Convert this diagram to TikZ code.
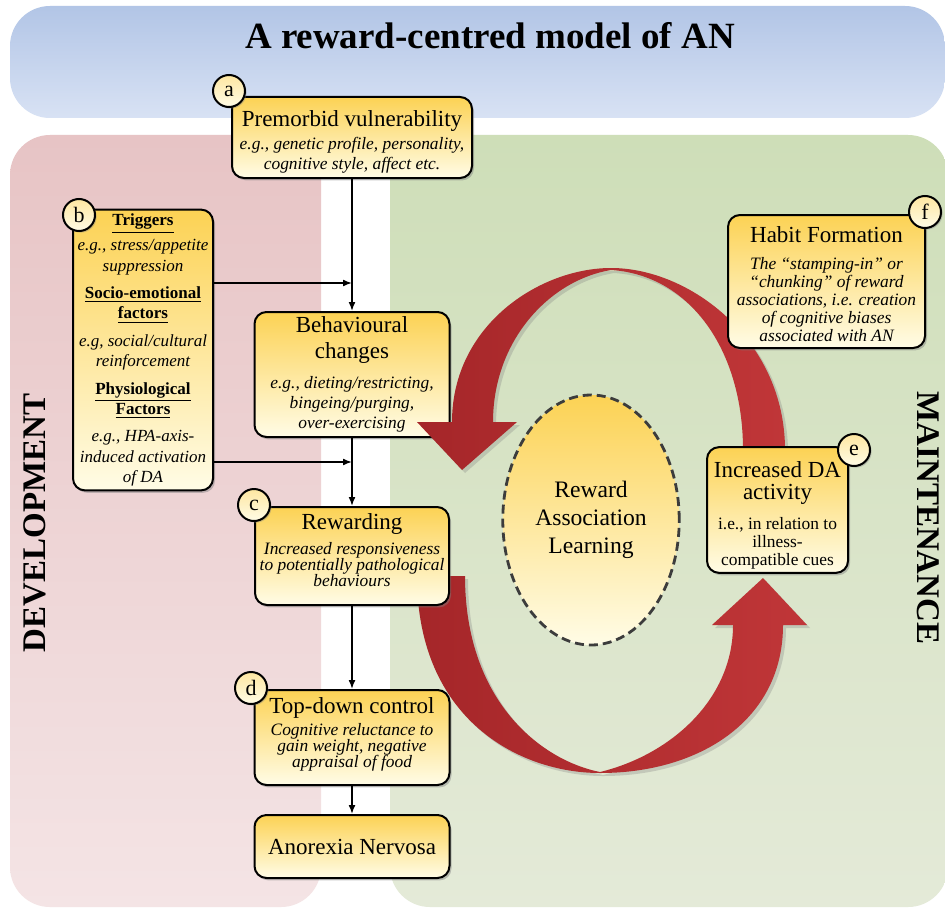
\documentclass[tikz,border=0pt]{standalone}
\usepackage{fontspec}
\setmainfont{Liberation Serif}
\usetikzlibrary{arrows.meta,shadows,shapes.geometric}

\definecolor{bluetop}{RGB}{178,197,230}
\definecolor{bluebot}{RGB}{216,226,244}
\definecolor{pinktop}{RGB}{231,196,197}
\definecolor{pinkbot}{RGB}{244,228,229}
\definecolor{greentop}{RGB}{206,222,184}
\definecolor{greenbot}{RGB}{228,234,216}
\definecolor{boxtop}{RGB}{252,210,84}
\definecolor{boxbot}{RGB}{255,252,230}
\definecolor{reddark}{RGB}{165,38,41}
\definecolor{redlight}{RGB}{192,54,56}
\definecolor{dashgray}{RGB}{60,60,60}

\newcommand{\hd}[1]{{\upshape\fontsize{11.5}{13}\selectfont #1}}
\newcommand{\sub}[1]{\underline{\upshape\bfseries #1}}

\begin{document}
\begin{tikzpicture}[x=0.5pt,y=-0.5pt,
    stage/.style={draw,line width=1pt,rounded corners=6pt,top color=boxtop,bottom color=boxbot,
      align=center,inner sep=2pt,font=\itshape\fontsize{8.7}{10}\selectfont,
      drop shadow={shadow xshift=1pt,shadow yshift=-1.2pt,opacity=0.45}},
    tag/.style={circle,draw,line width=1pt,top color=boxtop!55!white,bottom color=boxbot,
      minimum size=16pt,inner sep=0pt,font=\fontsize{11}{11}\selectfont,
      drop shadow={shadow xshift=0.8pt,shadow yshift=-0.8pt,opacity=0.4}},
    flow/.style={line width=0.8pt,-{Latex[length=4.5pt,width=3.5pt]}},
    bigarrow/.style={left color=reddark,right color=redlight,
      drop shadow={shadow xshift=1.5pt,shadow yshift=-1.5pt,opacity=0.3}},
    panel/.style={rounded corners=20pt}]
    \useasboundingbox (0,0) rectangle (945,909);
    \fill[white] (0,0) rectangle (945,909);

    % background panels
    \shade[panel,top color=bluetop,bottom color=bluebot] (10,6) rectangle (945,118);
    \shade[panel,top color=pinktop,bottom color=pinkbot] (10,135) rectangle (321,907);
    \shade[panel,top color=greentop,bottom color=greenbot] (390,135) rectangle (948,907);

    \node (title) at (490,36) {\bfseries\fontsize{18.5}{20}\selectfont A reward-centred model of AN};
    \node[rotate=90] (dev) at (35,523) {\bfseries\fontsize{16.5}{18}\selectfont DEVELOPMENT};
    \node[rotate=-90] (maint) at (928,518) {\bfseries\fontsize{16.5}{18}\selectfont MAINTENANCE};

    % lower loop arrow
    \path[bigarrow] (417,576) .. controls (417,720) and (520,773) .. (600,773)
        .. controls (700,773) and (783,720) .. (783,625) -- (807,625) -- (763,578) -- (712,625)
        -- (733,625) .. controls (733,700) and (670,755) .. (600,772)
        .. controls (540,760) and (465,700) .. (465,576) -- cycle;

    \node[stage,minimum width=97.5pt,minimum height=62.5pt] (beh) at (352,374.5)
        {\hd{Behavioural}\\[3pt] \hd{changes}\\[5pt] e.g., dieting/restricting,\\ bingeing/purging,\\ over-exercising};

    % upper loop arrow
    \path[bigarrow] (785,450) .. controls (785,340) and (690,268) .. (611,268)
        .. controls (540,268) and (452,325) .. (452,422) -- (417,422) -- (462,470) -- (517,422)
        -- (493,422) .. controls (493,340) and (550,280) .. (611,270)
        .. controls (690,275) and (743,350) .. (743,450) -- cycle;

    \node[stage,minimum width=120pt,minimum height=40.5pt] (vuln) at (352,137.5)
        {\hd{\rule{0pt}{12pt}Premorbid vulnerability}\\[1.5pt] e.g., genetic profile, personality,\\ cognitive style, affect etc.};
    \node[stage,minimum width=70pt,minimum height=135pt,font=\itshape\fontsize{8.5}{10.2}\selectfont] (trig) at (143,350)
        {\sub{Triggers}\\[2.5pt] e.g., stress/appetite\\ suppression\\[3.5pt]
         \sub{Socio-emotional}\\ \sub{factors}\\[3.5pt] e.g, social/cultural\\ reinforcement\\[3.5pt]
         \sub{Physiological}\\ \sub{Factors}\\[3.5pt] e.g., HPA-axis-\\ induced activation\\ of DA};
    \node[stage,minimum width=97pt,minimum height=49pt,font=\itshape\fontsize{8.7}{8.2}\selectfont] (rew) at (352,556)
        {\hd{Rewarding}\\[3pt] Increased responsiveness\\ to potentially pathological\\ behaviours\rule[-6pt]{0pt}{0pt}};
    \node[stage,minimum width=97.5pt,minimum height=47.5pt,font=\itshape\fontsize{8.7}{8.2}\selectfont] (ctrl) at (352,737.5)
        {\hd{Top-down control}\\[1.5pt] Cognitive reluctance to\\ gain weight, negative\\ appraisal of food\rule[-5pt]{0pt}{0pt}};
    \node[stage,minimum width=97.5pt,minimum height=31.5pt] (an) at (352,846.5) {\hd{Anorexia Nervosa}};
    \node[stage,minimum width=98.5pt,minimum height=66.5pt,font=\itshape\fontsize{8.7}{9}\selectfont] (habit) at (826.5,281.5)
        {\hd{\rule{0pt}{11pt}Habit Formation}\\[4.5pt] The ``stamping-in'' or\\ ``chunking'' of reward\\ associations, i.e. creation\\ of cognitive biases\\ associated with AN};
    \node[stage,minimum width=70.5pt,minimum height=58pt,font=\fontsize{8.7}{9}\selectfont] (da) at (777.5,510)
        {\hd{\rule{0pt}{13pt}Increased DA}\\[2pt] \hd{activity}\\[6pt] i.e., in relation to\\ illness-\\ compatible cues};
    \node[ellipse,draw=dashgray,line width=1.4pt,dash pattern=on 4.5pt off 2.5pt,
        top color=boxtop,bottom color=boxbot,minimum width=73pt,minimum height=125pt,
        align=center,font=\fontsize{11.8}{14}\selectfont] (ral) at (591,520)
        {Reward\\ Association\\ Learning};

    % letter tags
    \node[tag] (ta) at (229,91) {a};
    \node[tag] (tb) at (79,215) {b};
    \node[tag] (tc) at (254,505) {c};
    \node[tag] (td) at (251,688) {d};
    \node[tag] (te) at (854,450) {e};
    \node[tag] (tf) at (925,212) {f};

    % development pathway
    \coordinate (j1) at (352,283);
    \coordinate (j2) at (352,462);
    \draw[flow] (vuln) -- (beh);
    \draw[flow] (beh) -- (rew);
    \draw[flow] (rew) -- (ctrl);
    \draw[flow] (ctrl) -- (an);
    \draw[flow] (trig.east |- j1) -- (j1);
    \draw[flow] (trig.east |- j2) -- (j2);
\end{tikzpicture}
\end{document}
